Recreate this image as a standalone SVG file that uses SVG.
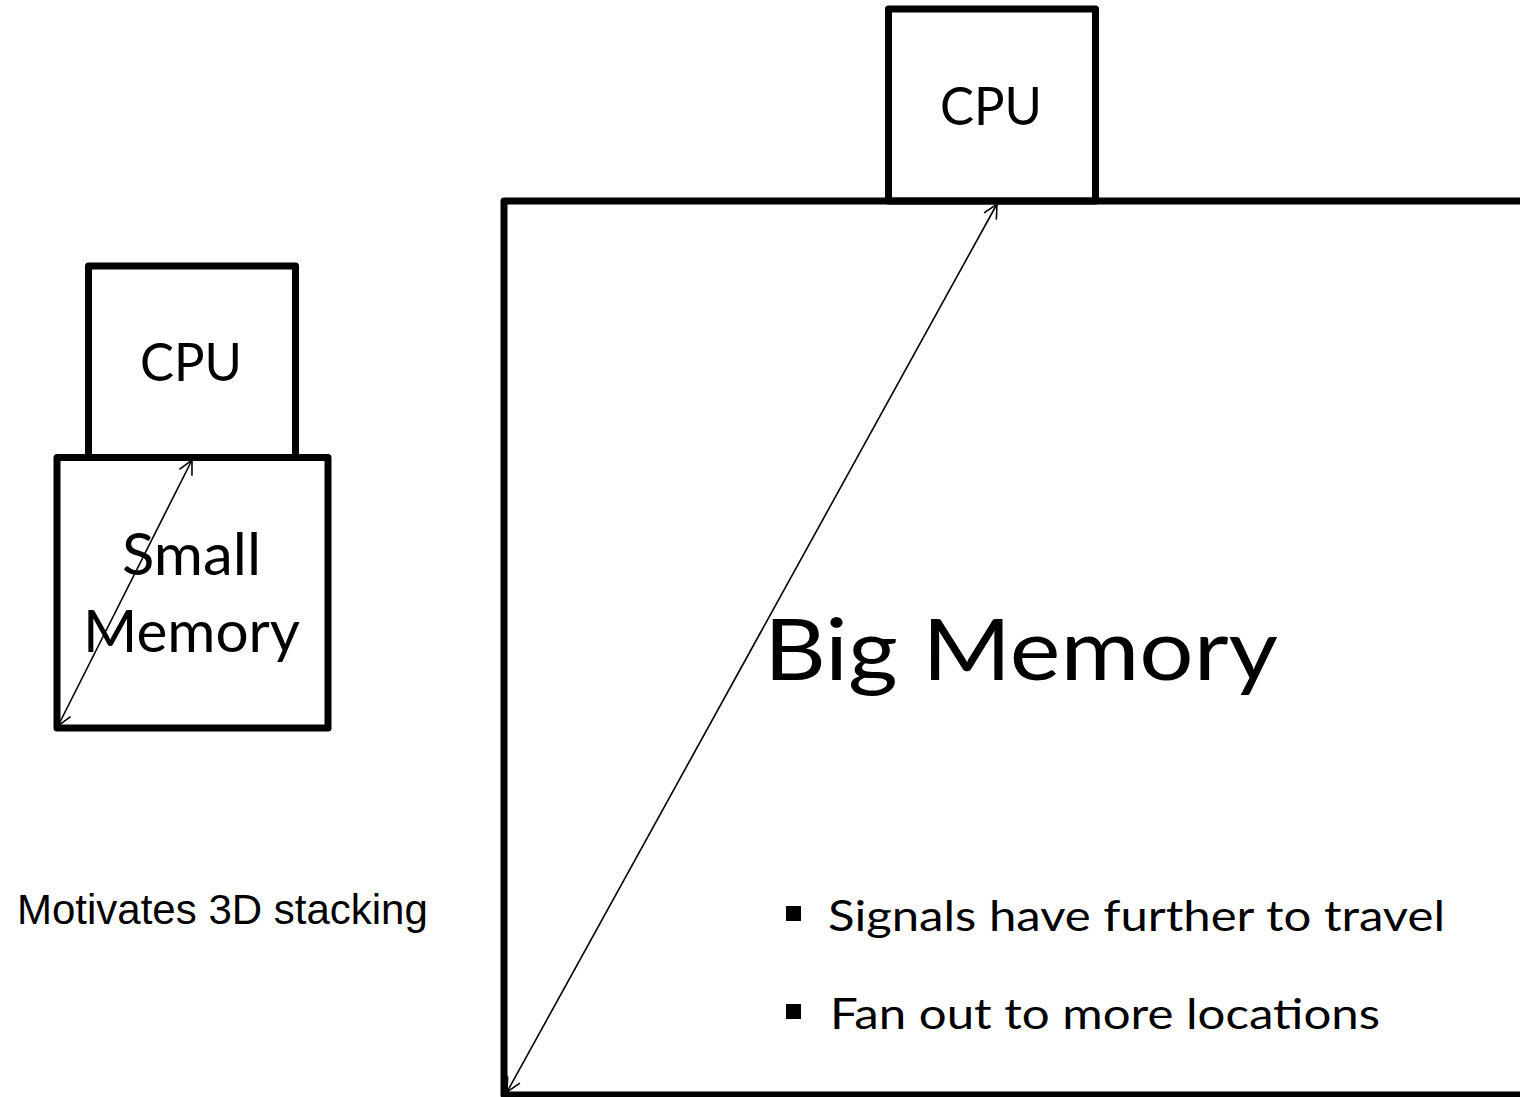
<svg xmlns="http://www.w3.org/2000/svg" width="1520" height="1097" viewBox="0 0 1520 1097">
<style>
.box{fill:none;stroke:#000;stroke-width:7;stroke-linejoin:round}
.lbl{font-family:Lato,"Open Sans","Liberation Sans",sans-serif;fill:#000}
.conn{stroke:#000;stroke-width:1.6;fill:none;marker-start:url(#ah);marker-end:url(#ah)}
</style>
<defs>
<marker id="ah" markerUnits="userSpaceOnUse" viewBox="0 0 16 16" refX="15" refY="8" markerWidth="16" markerHeight="16" orient="auto-start-reverse">
<path d="M1,1 L15,8 L1,15" fill="none" stroke="#000" stroke-width="1.6"/>
</marker>
</defs>
<rect width="1520" height="1097" fill="#fff"/>
<g id="small-cpu">
<rect class="box" x="88.5" y="266" width="207" height="191.5"/>
<text class="lbl" x="140" y="381" font-size="53" textLength="102" lengthAdjust="spacingAndGlyphs">CPU</text>
</g>
<g id="small-memory">
<rect class="box" x="57" y="457.5" width="271" height="270.5"/>
<text class="lbl" x="122" y="575" font-size="58" textLength="139" lengthAdjust="spacingAndGlyphs">Small</text>
<text class="lbl" x="83" y="652" font-size="58" textLength="217" lengthAdjust="spacingAndGlyphs">Memory</text>
</g>
<g id="big-cpu">
<rect class="box" x="888.5" y="9" width="207" height="192"/>
<text class="lbl" x="940" y="125" font-size="53" textLength="102" lengthAdjust="spacingAndGlyphs">CPU</text>
</g>
<g id="big-memory">
<rect class="box" x="504" y="201" width="1100" height="894"/>
<text class="lbl" x="764" y="680" font-size="85" textLength="514" lengthAdjust="spacingAndGlyphs">Big Memory</text>
<rect x="786" y="906" width="15" height="15" fill="#000"/>
<text class="lbl" x="828" y="931" font-size="42" textLength="617" lengthAdjust="spacingAndGlyphs">Signals have further to travel</text>
<rect x="786" y="1004" width="15" height="15" fill="#000"/>
<text class="lbl" x="830" y="1029" font-size="42" textLength="550" lengthAdjust="spacingAndGlyphs">Fan out to more locations</text>
</g>
<g id="caption">
<text x="17" y="924" font-family="'Liberation Sans',Arial,sans-serif" font-size="42">Motivates 3D stacking</text>
</g>
<g id="connectors">
<line class="conn" x1="58" y1="726" x2="192" y2="460"/>
<line class="conn" x1="507" y1="1092" x2="997" y2="204"/>
</g>
</svg>
